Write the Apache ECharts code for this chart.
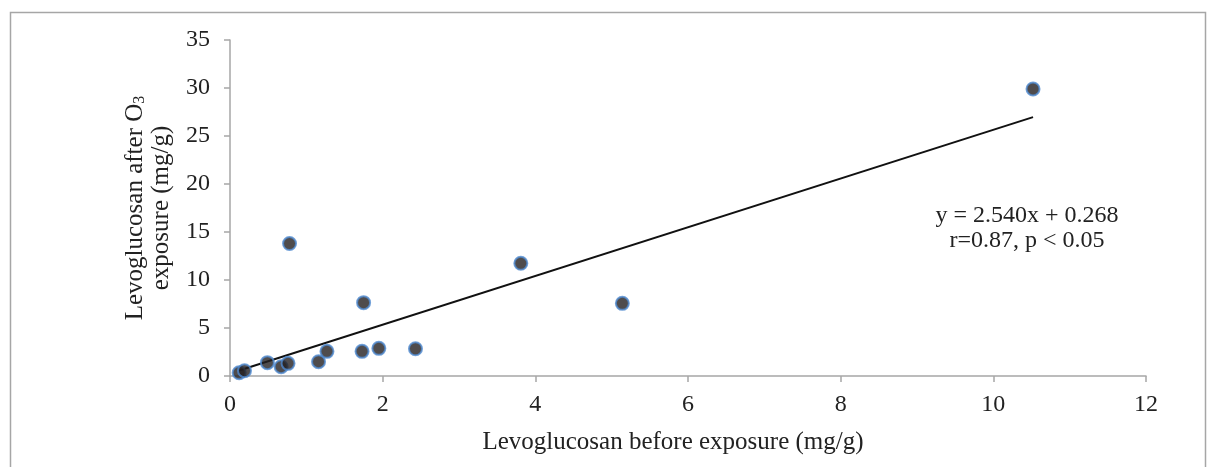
<!DOCTYPE html>
<html lang="en">
<head>
    <meta charset="UTF-8">
    <title>Levoglucosan</title>
    <script src="https://cdn.jsdelivr.net/npm/echarts@6/dist/echarts.min.js"></script>
    <style>
        html, body { margin: 0; padding: 0; background: #fff; }
    </style>
</head>
<body>
<div id="main" style="width: 1211px;height:467px;"></div>

<script type="text/javascript">
    // values
    var beforeExposure = [0.12, 0.19, 0.49, 0.67, 0.76, 0.78, 1.16, 1.27, 1.73, 1.75, 1.95, 2.43, 3.81, 5.14, 10.52];
    var afterExposure  = [0.34, 0.55, 1.39, 0.97, 1.32, 13.8, 1.49, 2.57, 2.57, 7.64, 2.88, 2.84, 11.74, 7.57, 29.9];
    // end points of the fitted line
    var fitX = [0.12, 10.52];
    var fitY = [0.57, 26.97];
    var xTicks = [0, 2, 4, 6, 8, 10, 12];
    var yTicks = [0, 5, 10, 15, 20, 25, 30, 35];
    var equationLines = ['y = 2.540x + 0.268', 'r=0.87, p < 0.05'];

    var font = 'Liberation Serif';
    var axisGrey = '#a6a6a6';

    var points = beforeExposure.map(function (x, i) { return [x, afterExposure[i]]; });
    var fitLine = fitX.map(function (x, i) { return [x, fitY[i]]; });

    var myChart = echarts.init(document.getElementById('main'));
    var option = {
        animation: false,
        backgroundColor: '#fff',
        grid: { left: 230, right: 65, top: 40, bottom: 91 },
        xAxis: {
            type: 'value',
            min: xTicks[0],
            max: xTicks[xTicks.length - 1],
            interval: xTicks[1] - xTicks[0],
            splitLine: { show: false },
            axisLine: { lineStyle: { color: axisGrey, width: 1.5 } },
            axisTick: { show: true, length: 6, lineStyle: { color: axisGrey, width: 1.5 } },
            axisLabel: { color: '#222', fontFamily: font, fontSize: 24, margin: 17 }
        },
        yAxis: {
            type: 'value',
            min: yTicks[0],
            max: yTicks[yTicks.length - 1],
            interval: yTicks[1] - yTicks[0],
            splitLine: { show: false },
            axisLine: { show: true, lineStyle: { color: axisGrey, width: 1.5 } },
            axisTick: { show: true, length: 6, lineStyle: { color: axisGrey, width: 1.5 } },
            axisLabel: { color: '#222', fontFamily: font, fontSize: 24, margin: 20 },
            name: 'Levoglucosan after O{sub|3}\nexposure (mg/g)',
            nameLocation: 'middle',
            nameRotate: 90,
            nameGap: 56,
            nameTextStyle: {
                color: '#222', fontFamily: font, fontSize: 25, lineHeight: 26, align: 'center',
                rich: {
                    sub: { fontFamily: font, fontSize: 16, verticalAlign: 'bottom', lineHeight: 26 }
                }
            }
        },
        graphic: [
            {
                type: 'rect', left: 8, top: 10, silent: true,
                shape: { width: 1195, height: 470 },
                style: { fill: 'none', stroke: '#a6a6a6', lineWidth: 1.5 }
            },
            {
                type: 'text', x: 673, y: 442,
                style: {
                    text: 'Levoglucosan before exposure (mg/g)',
                    fontFamily: font, fontSize: 25, fill: '#222',
                    textAlign: 'center', textVerticalAlign: 'middle'
                }
            },
            {
                type: 'text', x: 1027, y: 228,
                style: {
                    text: equationLines.join('\n'),
                    fontFamily: font, fontSize: 24, lineHeight: 25, fill: '#222',
                    textAlign: 'center', textVerticalAlign: 'middle'
                }
            }
        ],
        series: [
            {
                type: 'line',
                data: fitLine,
                symbol: 'none',
                lineStyle: { color: '#111', width: 2 },
                z: 2
            },
            {
                type: 'scatter',
                data: points,
                symbolSize: 13,
                itemStyle: { color: '#231f20', borderColor: '#4f8ad0', borderWidth: 2 },
                z: 3
            }
        ]
    };
    myChart.setOption(option);
</script>
</body>
</html>
